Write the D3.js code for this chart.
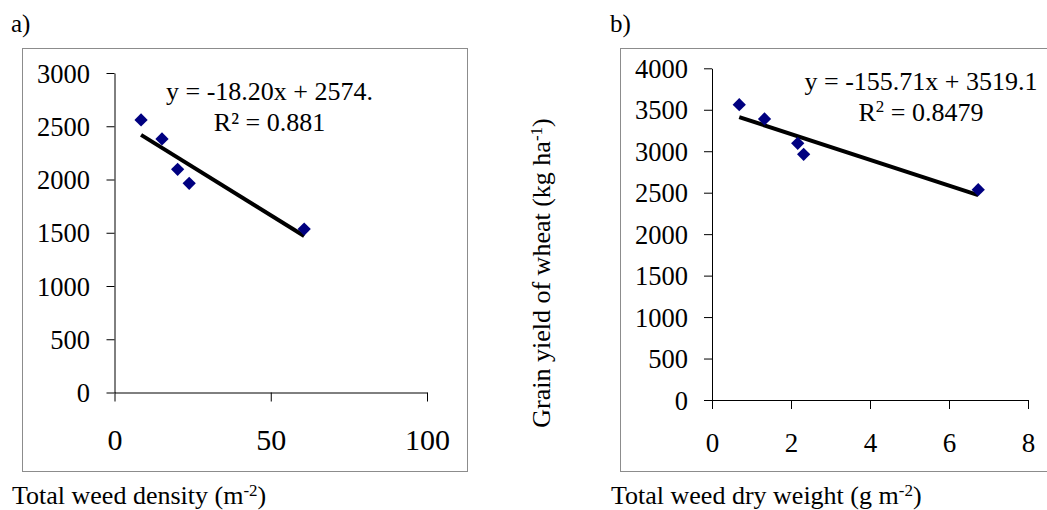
<!DOCTYPE html>
<meta charset="utf-8">
<head>
<style>
    body {margin: 0; background: #fff;}
    svg text {font-family: "Liberation Serif", "Times New Roman", serif; fill: #000;}
</style>
</head>
<body>
<div class="chart"></div>
</body>
<script src="https://d3js.org/d3.v7.min.js"></script>
<script>
// a) weed density vs grain yield
var densityX = [8.5, 15.2, 20.2, 23.9, 60.7];
var densityYield = [2559, 2381, 2096, 1964, 1535];
var trendA = [-18.20, 2574];          // slope, intercept
var xTicksA = [0, 50, 100];
var yTicksA = [0, 500, 1000, 1500, 2000, 2500, 3000];

// b) weed dry weight vs grain yield
var dryX = [0.69, 1.33, 2.17, 2.32, 6.74];
var dryYield = [3561, 3389, 3096, 2963, 2536];
var trendB = [-155.71, 3519.1];
var xTicksB = [0, 2, 4, 6, 8];
var yTicksB = [0, 500, 1000, 1500, 2000, 2500, 3000, 3500, 4000];

var width = 1047, height = 510;
var serif = "Liberation Serif, Times New Roman, serif";

var svg = d3.select(".chart").append("svg")
    .attr("width", width)
    .attr("height", height)
    .attr("font-family", serif);

svg.append("rect").attr("width", width).attr("height", height).attr("fill", "#fff");

function draw_panel(p) {
    var g = svg.append("g");

    // outer frame
    g.append("rect")
        .attr("x", p.box[0] + 0.5).attr("y", p.box[1] + 0.5)
        .attr("width", p.box[2]).attr("height", p.box[3])
        .attr("fill", "none").attr("stroke", "#8c8c8c").attr("stroke-width", 1);

    var x = d3.scaleLinear().domain(d3.extent(p.xTicks)).range(p.xRange);
    var y = d3.scaleLinear().domain(d3.extent(p.yTicks)).range(p.yRange);

    var xa = g.append("g")
        .attr("transform", "translate(0," + p.yRange[0] + ")")
        .call(d3.axisBottom(x).tickValues(p.xTicks).tickFormat(d3.format("d"))
            .tickSize(9).tickSizeOuter(0).tickPadding(p.xPad));
    xa.attr("font-family", serif).attr("font-size", p.xFont);
    xa.selectAll("text").attr("font-size", p.xFont).attr("font-family", serif);

    var ya = g.append("g")
        .attr("transform", "translate(" + p.xRange[0] + ",0)")
        .call(d3.axisLeft(y).tickValues(p.yTicks).tickFormat(d3.format("d"))
            .tickSize(8).tickSizeOuter(0).tickPadding(p.yPad));
    ya.attr("font-family", serif).attr("font-size", 26.5);
    ya.selectAll("text").attr("font-size", 26.5).attr("font-family", serif).attr("dy", "0.34em");

    g.selectAll(".domain, .tick line").attr("stroke", "#000").attr("stroke-width", 1);

    // trend line over the data range
    var ext = d3.extent(p.xs);
    g.append("line")
        .attr("x1", x(ext[0])).attr("y1", y(p.trend[0] * ext[0] + p.trend[1]))
        .attr("x2", x(ext[1])).attr("y2", y(p.trend[0] * ext[1] + p.trend[1]))
        .attr("stroke", "#000").attr("stroke-width", 4);

    var pts = p.xs.map(function (d, i) { return [d, p.ys[i]]; });
    g.selectAll(".pt").data(pts).enter().append("path")
        .attr("class", "pt")
        .attr("d", d3.symbol(d3.symbolSquare, 88))
        .attr("transform", function (d) {
            return "translate(" + x(d[0]) + "," + y(d[1]) + ") rotate(45)";
        })
        .attr("fill", "#000080");

    // equation
    g.append("text").attr("x", p.eqX).attr("y", p.eqY)
        .attr("text-anchor", "middle").attr("font-size", 26)
        .text(p.eq);
    var r = g.append("text").attr("x", p.eqX).attr("y", p.eqY + 30.5)
        .attr("text-anchor", "middle").attr("font-size", 26);
    if (p.rSup) {
        r.append("tspan").text("R");
        r.append("tspan").attr("font-size", 17).attr("dy", -9).text("2");
        r.append("tspan").attr("dy", 9).text(" = " + p.r2);
    } else {
        r.text("R\u00b2 = " + p.r2);
    }

    // panel letter
    g.append("text").attr("x", p.letterX).attr("y", 32).attr("font-size", 25).text(p.letter);

    // x title
    var t = g.append("text").attr("x", p.titleX).attr("y", 504).attr("font-size", 26);
    t.append("tspan").text(p.xTitle);
    t.append("tspan").attr("font-size", 17).attr("dy", -8).text("-2");
    t.append("tspan").attr("dy", 8).text(")");
}

draw_panel({
    box: [22, 48, 445, 423],
    xRange: [114.5, 427], yRange: [392.5, 73],
    xTicks: xTicksA, yTicks: yTicksA,
    xFont: 30, xPad: 27, yPad: 16.5,
    xs: densityX, ys: densityYield, trend: trendA,
    eq: "y = -18.20x + 2574.", r2: "0.881", rSup: false,
    eqX: 269.5, eqY: 100,
    letter: "a)", letterX: 11,
    xTitle: "Total weed density (m", titleX: 12
});

draw_panel({
    box: [620, 48, 440, 423],
    xRange: [712, 1028], yRange: [400, 68.3],
    xTicks: xTicksB, yTicks: yTicksB,
    xFont: 27, xPad: 24, yPad: 16,
    xs: dryX, ys: dryYield, trend: trendB,
    eq: "y = -155.71x + 3519.1", r2: "0.8479", rSup: true,
    eqX: 921, eqY: 90,
    letter: "b)", letterX: 610,
    xTitle: "Total weed dry weight (g m", titleX: 611
});

// y axis title between the panels
var yt = svg.append("text")
    .attr("transform", "translate(550,273) rotate(-90)")
    .attr("text-anchor", "middle").attr("font-size", 26);
yt.append("tspan").text("Grain yield of wheat (kg ha");
yt.append("tspan").attr("font-size", 17).attr("dy", -8).text("-1");
yt.append("tspan").attr("dy", 8).text(")");
</script>
</body>
